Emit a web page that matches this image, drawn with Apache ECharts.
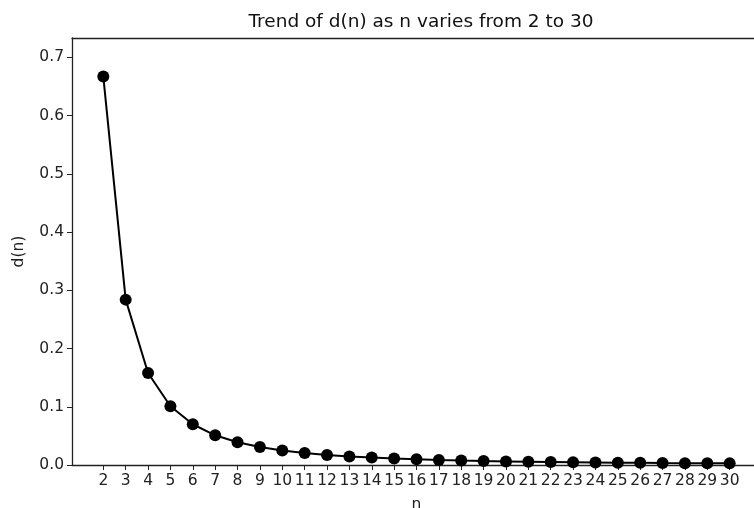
<!DOCTYPE html>
<html>
<head>
<meta charset="utf-8">
<script src="https://cdn.jsdelivr.net/npm/echarts@6/dist/echarts.min.js"></script>
<style>
html, body { margin: 0; padding: 0; background: #fff; }
#main { width: 754px; height: 508px; }
</style>
</head>
<body>
<div id="main"></div>
<script>
// n 的取值
var nValues = [2, 3, 4, 5, 6, 7, 8, 9, 10, 11, 12, 13, 14, 15, 16,
    17, 18, 19, 20, 21, 22, 23, 24, 25, 26, 27, 28, 29, 30];
// d(n) 读图估计
var dValues = [0.667, 0.284, 0.158, 0.101, 0.070, 0.051, 0.039, 0.031, 0.025, 0.0205,
    0.0172, 0.0147, 0.0127, 0.011, 0.0097, 0.0086, 0.0077, 0.0069, 0.0062, 0.0056,
    0.0051, 0.0047, 0.0043, 0.004, 0.0037, 0.0034, 0.0032, 0.003, 0.0028];
var yTicks = [0, 0.1, 0.2, 0.3, 0.4, 0.5, 0.6, 0.7];

var seriesData = nValues.map(function (n, i) {
    return [n, dValues[i]];
});

var chart = echarts.init(document.getElementById('main'));
var font = 'DejaVu Sans';

var option = {
    animation: false,
    title: {
        text: 'Trend of d(n) as n varies from 2 to 30',
        left: 416,
        textAlign: 'center',
        top: 8,
        textStyle: { fontFamily: font, fontSize: 18.5, fontWeight: 'normal', color: '#111' }
    },
    grid: {
        left: 72,
        top: 38,
        right: -7,
        bottom: 43,
        outerBoundsMode: 'none',
        containLabel: false,
        show: false
    },
    xAxis: [{
        type: 'value',
        min: 0.6,
        max: 31.4,
        name: 'n',
        nameLocation: 'middle',
        nameGap: 32,
        nameTextStyle: { fontFamily: font, fontSize: 15.5, color: '#222' },
        splitLine: { show: false },
        axisLine: { lineStyle: { color: '#222', width: 1.3 } },
        axisTick: { customValues: nValues, length: 5, lineStyle: { color: '#222' } },
        axisLabel: {
            customValues: nValues,
            fontFamily: font, fontSize: 15.5, color: '#222', margin: 8
        }
    }, {
        // 上边框
        type: 'value',
        position: 'top',
        min: 0.6,
        max: 31.4,
        splitLine: { show: false },
        axisLine: { show: true, lineStyle: { color: '#222', width: 1.3 } },
        axisTick: { show: false },
        axisLabel: { show: false }
    }],
    yAxis: {
        type: 'value',
        min: 0,
        max: 0.7333,
        name: 'd(n)',
        nameLocation: 'middle',
        nameGap: 45,
        nameTextStyle: { fontFamily: font, fontSize: 15.5, color: '#222' },
        splitLine: { show: false },
        axisLine: { show: true, lineStyle: { color: '#222', width: 1.3 } },
        axisTick: { show: true, customValues: yTicks, length: 5, lineStyle: { color: '#222' } },
        axisLabel: {
            customValues: yTicks,
            fontFamily: font, fontSize: 15.5, color: '#222', margin: 8,
            formatter: function (v) { return v.toFixed(1); }
        }
    },
    series: [{
        type: 'line',
        data: seriesData,
        symbol: 'circle',
        symbolSize: 12,
        showSymbol: true,
        lineStyle: { color: '#000', width: 2 },
        itemStyle: { color: '#000' }
    }]
};

chart.setOption(option);
</script>
</body>
</html>
